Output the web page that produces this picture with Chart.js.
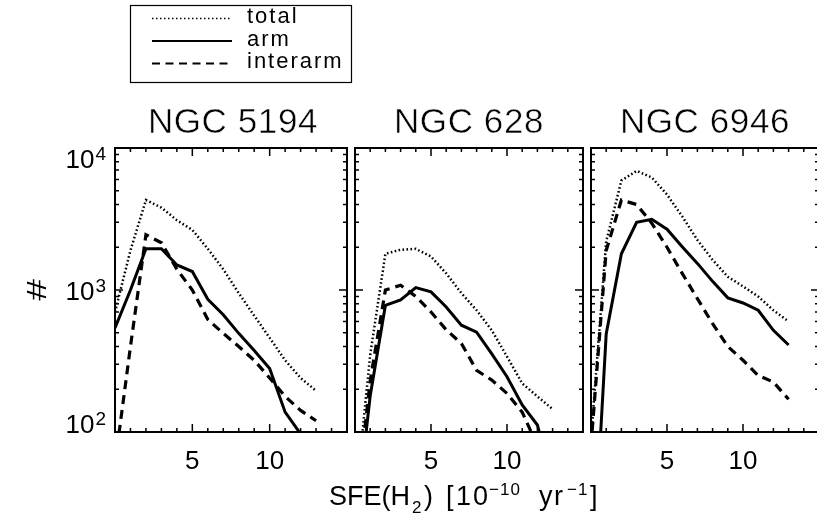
<!DOCTYPE html>
<html>
<head>
<meta charset="utf-8">
<script src="https://cdn.jsdelivr.net/npm/chart.js@4.4.1/dist/chart.umd.min.js"></script>
<style>
  html, body { margin: 0; padding: 0; background: #fff; overflow: hidden; }
  #wrap { position: relative; width: 817px; height: 518px; overflow: hidden; background: #fff; }
  #wrap canvas { position: absolute; top: 0; }
  #overlay { position: absolute; left: 0; top: 0; pointer-events: none; }
  text { font-family: "Liberation Sans", Arial, sans-serif; fill: #000; }
</style>
</head>
<body>
<div id="wrap">
  <canvas id="panel0" width="361" height="518" style="left:0px"></canvas>
  <canvas id="panel1" width="256" height="518" style="left:341px"></canvas>
  <canvas id="panel2" width="256" height="518" style="left:577px"></canvas>
  <svg id="overlay" width="817" height="518" xmlns="http://www.w3.org/2000/svg"></svg>
</div>
<script>
// SFE(H2) bins, 1e-10 yr^-1
const sfe = [0, 1, 2, 3, 4, 5, 6, 7, 8, 9, 10, 11, 12, 13];

const galaxies = ['NGC 5194', 'NGC 628', 'NGC 6946'];

// pixel counts per bin
const total5194 = [700, 1900, 4300, 3800, 3100, 2650, 1950, 1400, 950, 660, 460, 320, 240, 195];
const arm5194   = [540, 1000, 1950, 1950, 1500, 1350, 860, 670, 495, 375, 280, 138, 97, 60];
const inter5194 = [60, 400, 2450, 2150, 1400, 1000, 620, 495, 400, 320, 240, 178, 142, 120];

const total628 = [30, 350, 1800, 1920, 1950, 1720, 1310, 950, 720, 520, 340, 220, 178, 145];
const arm628   = [20, 180, 780, 850, 1040, 970, 760, 565, 505, 355, 245, 155, 112, 45];
const inter628 = [25, 230, 1000, 1080, 900, 700, 525, 420, 272, 232, 187, 138, 80, 50];

const total6946 = [90, 2200, 5900, 6900, 6200, 4700, 3300, 2250, 1630, 1240, 1060, 900, 720, 600];
const arm6946   = [6, 490, 1800, 3000, 3150, 2680, 2020, 1540, 1150, 880, 810, 720, 520, 410];
const inter6946 = [80, 1900, 4300, 4000, 2950, 2000, 1310, 870, 580, 400, 320, 250, 225, 170];

const xTickLabels = [5, 10];
const yTickPowers = [2, 3, 4];

const panels = [
  { total: total5194, arm: arm5194, interarm: inter5194 },
  { total: total628, arm: arm628, interarm: inter628 },
  { total: total6946, arm: arm6946, interarm: inter6946 }
];

const series = [
  { key: 'total', label: 'total', width: 2.5, dash: [1.6, 2.4], legendWidth: 1.3, legendDash: [1.5, 2.5] },
  { key: 'arm', label: 'arm', width: 3, dash: [], legendWidth: 2, legendDash: [] },
  { key: 'interarm', label: 'interarm', width: 3.2, dash: [9, 6], legendWidth: 2, legendDash: [8, 5.5] }
];

const FONT = '"Liberation Sans", Arial, sans-serif';
const PANEL_W = 236, AXIS_LEFT = 115, PLOT_TOP = 148, PLOT_BOTTOM = 432, H = 518;

Chart.defaults.font.family = FONT;
Chart.defaults.color = '#000';

// frame and inward tick marks on all four sides
const frameTicks = {
  id: 'frameTicks',
  afterDatasetsDraw(chart) {
    const { ctx, chartArea: a } = chart;
    const xs = chart.scales.x, ys = chart.scales.y;
    ctx.save();
    ctx.strokeStyle = '#000';
    ctx.lineWidth = 1.5;
    ctx.beginPath();
    xs.ticks.forEach(t => {
      const px = xs.getPixelForValue(t.value);
      const len = t.value % 5 === 0 ? 8 : 4;
      ctx.moveTo(px, a.bottom); ctx.lineTo(px, a.bottom - len);
      ctx.moveTo(px, a.top); ctx.lineTo(px, a.top + len);
    });
    for (let p = yTickPowers[0]; p <= yTickPowers[yTickPowers.length - 1]; p++) {
      for (let m = 1; m < 10; m++) {
        const v = m * Math.pow(10, p);
        if (v > ys.max) break;
        const py = ys.getPixelForValue(v);
        const len = m === 1 ? 8 : 4;
        ctx.moveTo(a.left, py); ctx.lineTo(a.left + len, py);
        ctx.moveTo(a.right, py); ctx.lineTo(a.right - len, py);
      }
    }
    ctx.stroke();
    ctx.lineWidth = 2;
    ctx.strokeRect(a.left, a.top, a.right - a.left, a.bottom - a.top);
    ctx.restore();
  }
};

// "10^n" labels for the log axis, kept inside the frame at the ends
const powerLabels = {
  id: 'powerLabels',
  afterDraw(chart) {
    const { ctx, chartArea: a } = chart;
    const ys = chart.scales.y;
    const right = a.left - 9;
    ctx.save();
    ctx.fillStyle = '#000';
    ctx.textBaseline = 'alphabetic';
    ctx.textAlign = 'right';
    yTickPowers.forEach(p => {
      let cy = ys.getPixelForValue(Math.pow(10, p));
      cy = Math.min(Math.max(cy, a.top + 10), a.bottom - 9);
      const base = cy + 9.5;
      ctx.font = '19px ' + FONT;
      ctx.fillText(String(p), right, base - 8);
      const ew = ctx.measureText(String(p)).width;
      ctx.font = '26px ' + FONT;
      ctx.fillText('10', right - ew - 1, base);
    });
    ctx.restore();
  }
};

panels.forEach((panel, i) => {
  const first = i === 0;
  const datasets = series.map(s => ({
    label: s.label,
    data: sfe.map((x, j) => ({ x: x, y: panel[s.key][j] })),
    borderColor: '#000',
    backgroundColor: '#000',
    borderWidth: s.width,
    borderDash: s.dash,
    pointRadius: 0,
    tension: 0,
    fill: false
  }));

  new Chart(document.getElementById('panel' + i), {
    type: 'line',
    data: { datasets: datasets },
    options: {
      responsive: false,
      animation: false,
      devicePixelRatio: 1,
      layout: { padding: { left: first ? 0 : 10, right: 10, top: PLOT_TOP, bottom: 0 } },
      plugins: { legend: { display: false }, title: { display: false }, tooltip: { enabled: false } },
      scales: {
        x: {
          type: 'linear',
          min: 0,
          max: 15,
          grid: { display: false, drawTicks: false, tickLength: 0 },
          border: { display: false },
          ticks: {
            stepSize: 1,
            autoSkip: false,
            maxRotation: 0,
            padding: 14,
            font: { size: 26, lineHeight: 1.2 },
            callback: v => xTickLabels.includes(v) ? String(v) : ''
          },
          afterFit: s => { s.height = H - PLOT_BOTTOM; }
        },
        y: {
          type: 'logarithmic',
          min: 100,
          max: 10000,
          grid: { display: false, drawTicks: false },
          border: { display: false },
          ticks: { display: false },
          afterFit: s => { s.width = first ? AXIS_LEFT : 0; }
        }
      }
    },
    plugins: first ? [frameTicks, powerLabels] : [frameTicks]
  });
});

// titles, axis titles and the line-style key
const NS = 'http://www.w3.org/2000/svg';
const svg = document.getElementById('overlay');
function el(tag, attrs, text) {
  const e = document.createElementNS(NS, tag);
  Object.keys(attrs).forEach(k => e.setAttribute(k, attrs[k]));
  if (text !== undefined) e.textContent = text;
  return e;
}

galaxies.forEach((name, i) => {
  svg.appendChild(el('text', {
    x: AXIS_LEFT + i * PANEL_W + PANEL_W / 2, y: 133,
    'text-anchor': 'middle', 'font-size': 35, 'letter-spacing': 0.6,
    stroke: '#fff', 'stroke-width': 0.5
  }, name));
});

svg.appendChild(el('text', {
  transform: 'translate(46,290) rotate(-90) scale(1.3,0.9)',
  'text-anchor': 'middle', 'font-size': 30
}, '#'));

// x title pieces placed along the baseline
const xTitle = el('text', { y: 505, 'font-size': 27 });
[
  { x: 329, t: 'SFE(H' },
  { x: 412, t: '2', size: 17, dy: 8 },
  { x: 424, t: ')' },
  { x: 446, t: '[' },
  { x: 456, t: '10', ls: 2 },
  { x: 489, t: '\u221210', size: 17, dy: -10, ls: 1 },
  { x: 539, t: 'yr', ls: 1.5 },
  { x: 567, t: '\u22121', size: 17, dy: -10, ls: 1 },
  { x: 590, t: ']' }
].forEach(p => {
  const a = { x: p.x, y: 505 + (p.dy || 0) };
  if (p.size) a['font-size'] = p.size;
  if (p.ls) a['letter-spacing'] = p.ls;
  xTitle.appendChild(el('tspan', a, p.t));
});
svg.appendChild(xTitle);

svg.appendChild(el('rect', { x: 130.5, y: 5.5, width: 221, height: 77, fill: 'none', stroke: '#000', 'stroke-width': 1.2 }));
series.forEach((s, k) => {
  const base = 23 + k * 22.5;
  svg.appendChild(el('line', {
    x1: 152, x2: 232, y1: base - 4.5, y2: base - 4.5,
    stroke: '#000', 'stroke-width': s.legendWidth,
    'stroke-dasharray': s.legendDash.length ? s.legendDash.join(' ') : 'none'
  }));
  svg.appendChild(el('text', { x: 247, y: base, 'font-size': 22, 'letter-spacing': 2 }, s.label));
});
</script>
</body>
</html>
